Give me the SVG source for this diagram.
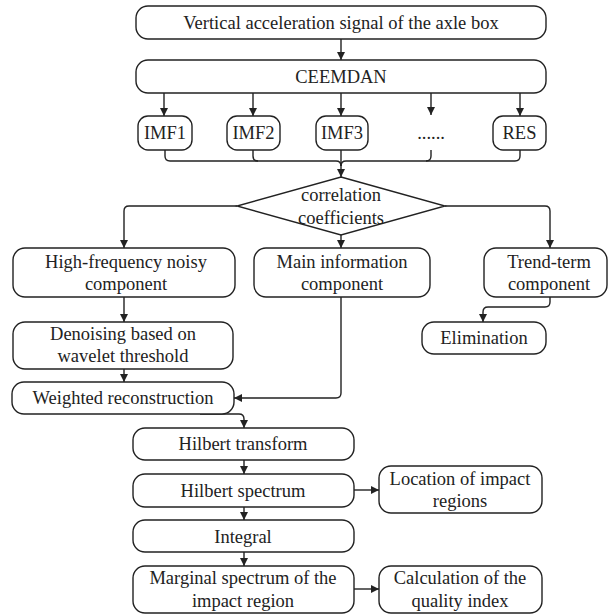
<svg xmlns="http://www.w3.org/2000/svg" width="609" height="616" viewBox="0 0 609 616">
<style>
.box{fill:#fff;stroke:#222;stroke-width:1.4}
.t{font-family:'Liberation Serif','DejaVu Serif',serif;font-size:18.5px;fill:#222;text-anchor:middle}
.c{fill:none;stroke:#222;stroke-width:1.4}
</style>
<defs>
<marker id="ah" markerUnits="userSpaceOnUse" markerWidth="9" markerHeight="9" refX="8" refY="4" orient="auto">
<path d="M0,0 L8,4 L0,8 z" fill="#222"/>
</marker>
</defs>
<rect width="609" height="616" fill="#fff"/>
<g id="connectors">
<path class="c" d="M341,39 V60" marker-end="url(#ah)"/>
<path class="c" d="M164,93 V116" marker-end="url(#ah)"/>
<path class="c" d="M253,93 V116" marker-end="url(#ah)"/>
<path class="c" d="M341,93 V116" marker-end="url(#ah)"/>
<path class="c" d="M431,93 V115" marker-end="url(#ah)"/>
<path class="c" d="M520,93 V116" marker-end="url(#ah)"/>
<path class="c" d="M165,150 V156 Q165,161 170,161 H336 Q341,161 341,166 V177" marker-end="url(#ah)"/>
<path class="c" d="M253,150 V156 Q253,161 258,161"/>
<path class="c" d="M520,150 V156 Q520,161 515,161 H346 Q341,161 341,166"/>
<path class="c" d="M431,150 V156 Q431,161 426,161"/>
<path class="c" d="M341,150 V166"/>
<path class="c" d="M237,206 H129 Q124,206 124,211 V248" marker-end="url(#ah)"/>
<path class="c" d="M341,235 V248" marker-end="url(#ah)"/>
<path class="c" d="M445,206 H545 Q550,206 550,211 V248" marker-end="url(#ah)"/>
<path class="c" d="M124,297 V322" marker-end="url(#ah)"/>
<path class="c" d="M124,369 V382" marker-end="url(#ah)"/>
<path class="c" d="M341,297 V393 Q341,398 336,398 H234" marker-end="url(#ah)"/>
<path class="c" d="M550,297 V302 Q550,307 545,307 H488 Q483,307 483,312 V322" marker-end="url(#ah)"/>
<path class="c" d="M200,414 H239 Q244,414 244,419 V428" marker-end="url(#ah)"/>
<path class="c" d="M244,460 V474" marker-end="url(#ah)"/>
<path class="c" d="M244,507 V520" marker-end="url(#ah)"/>
<path class="c" d="M244,552 V566" marker-end="url(#ah)"/>
<path class="c" d="M354,490 H379" marker-end="url(#ah)"/>
<path class="c" d="M354,589 H379" marker-end="url(#ah)"/>
</g>
<g id="n-signal"><rect class="box" x="136" y="6" width="410" height="33" rx="12"/><text class="t" x="341" y="29">Vertical acceleration signal of the axle box</text></g>
<g id="n-ceemdan"><rect class="box" x="136" y="60" width="410" height="33" rx="12"/><text class="t" x="341" y="83">CEEMDAN</text></g>
<g id="n-imf1"><rect class="box" x="138" y="116" width="54" height="34" rx="10"/><text class="t" x="165" y="139">IMF1</text></g>
<g id="n-imf2"><rect class="box" x="227" y="116" width="53" height="34" rx="10"/><text class="t" x="253.5" y="139">IMF2</text></g>
<g id="n-imf3"><rect class="box" x="316" y="116" width="52" height="34" rx="10"/><text class="t" x="342" y="139">IMF3</text></g>
<g id="n-dots"><text class="t" x="431" y="139">......</text></g>
<g id="n-res"><rect class="box" x="493" y="116" width="53" height="34" rx="10"/><text class="t" x="519.5" y="139">RES</text></g>
<g id="n-corr"><polygon class="box" points="341,177 445,206 341,235 237,206"/><text class="t" x="341" y="201">correlation</text><text class="t" x="341" y="224">coefficients</text></g>
<g id="n-high"><rect class="box" x="13" y="248" width="222" height="49" rx="12"/><text class="t" x="126" y="268">High-frequency noisy</text><text class="t" x="126" y="290">component</text></g>
<g id="n-main"><rect class="box" x="254" y="248" width="176" height="49" rx="12"/><text class="t" x="342" y="268">Main information</text><text class="t" x="342" y="290">component</text></g>
<g id="n-trend"><rect class="box" x="484" y="248" width="123" height="49" rx="12"/><text class="t" x="549" y="268">Trend-term</text><text class="t" x="549" y="290">component</text></g>
<g id="n-elim"><rect class="box" x="422" y="322" width="124" height="32" rx="12"/><text class="t" x="484" y="344">Elimination</text></g>
<g id="n-denoise"><rect class="box" x="13" y="322" width="220" height="47" rx="12"/><text class="t" x="123" y="340">Denoising based on</text><text class="t" x="123" y="362">wavelet threshold</text></g>
<g id="n-weighted"><rect class="box" x="12" y="382" width="222" height="32" rx="12"/><text class="t" x="123" y="404">Weighted reconstruction</text></g>
<g id="n-ht"><rect class="box" x="133" y="428" width="221" height="32" rx="12"/><text class="t" x="243" y="450">Hilbert transform</text></g>
<g id="n-hs"><rect class="box" x="133" y="474" width="221" height="33" rx="12"/><text class="t" x="243" y="497">Hilbert spectrum</text></g>
<g id="n-loc"><rect class="box" x="379" y="466" width="163" height="47" rx="12"/><text class="t" x="460" y="485">Location of impact</text><text class="t" x="460" y="507">regions</text></g>
<g id="n-int"><rect class="box" x="133" y="520" width="221" height="32" rx="12"/><text class="t" x="243" y="543">Integral</text></g>
<g id="n-marg"><rect class="box" x="133" y="566" width="221" height="47" rx="12"/><text class="t" x="243" y="584">Marginal spectrum of the</text><text class="t" x="243" y="607">impact region</text></g>
<g id="n-calc"><rect class="box" x="379" y="566" width="163" height="47" rx="12"/><text class="t" x="460" y="584">Calculation of the</text><text class="t" x="460" y="607">quality index</text></g>
</svg>
